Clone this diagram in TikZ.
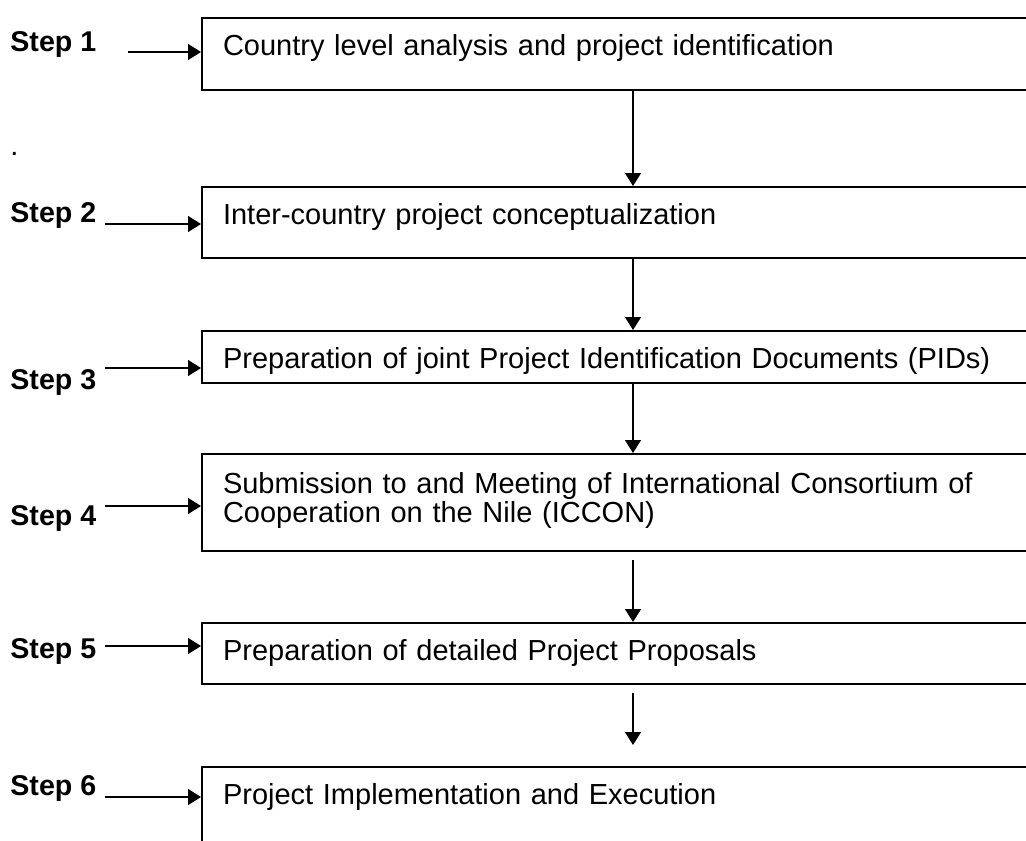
\documentclass[tikz,border=0pt]{standalone}
\usepackage{fontspec}
\setmainfont{Liberation Sans}
\usetikzlibrary{arrows.meta}

\begin{document}
\begin{tikzpicture}[x=0.5pt, y=-0.5pt, >={Triangle[length=6.5pt, width=8pt]},
    stepbox/.style={draw, line width=1pt, anchor=north west, inner xsep=10.5pt, inner ysep=0pt,
        text width=400pt, align=left, font=\fontsize{14.5}{12.85}\selectfont},
    steplab/.style={anchor=base west, inner sep=0pt, font=\fontsize{14.3}{12.85}\selectfont\bfseries},
    link/.style={->, line width=0.6pt}]
    \clip (0,0) rectangle (1026,840);

    \node[stepbox, text height=19pt, text depth=17pt] (b1) at (201,17) {Country level analysis and project identification};
    \node[stepbox, text height=18.5pt, text depth=17pt] (b2) at (201,186) {Inter-country project conceptualization};
    \node[stepbox, text height=18.5pt, text depth=7.5pt] (b3) at (201,330) {Preparation of joint Project Identification Documents (PIDs)};
    \node[stepbox, text height=19.5pt, text depth=29pt] (b4) at (201,453) {Submission to and Meeting of International Consortium of\\Cooperation on the Nile (ICCON)};
    \node[stepbox, text height=18.5pt, text depth=12pt] (b5) at (201,622) {Preparation of detailed Project Proposals};
    \node[stepbox, text height=18.5pt, text depth=40pt] (b6) at (201,766) {Project Implementation and Execution};

    \node[steplab] (l1) at (10,52) {Step 1};
    \node[steplab] (l2) at (10,222) {Step 2};
    \node[steplab] (l3) at (10,389) {Step 3};
    \node[steplab] (l4) at (10,525) {Step 4};
    \node[steplab] (l5) at (10,658) {Step 5};
    \node[steplab] (l6) at (10,795) {Step 6};
    \node[anchor=base west, inner sep=0pt, font=\fontsize{14.5}{12.85}\selectfont] (dot) at (10,155) {.};

    % arrows from the step labels
    \foreach \i/\x/\y in {1/128/52, 2/105/224, 3/105/368, 4/105/506, 5/105/646, 6/105/797} {
        \coordinate (t\i) at (\x,\y);
        \draw[link] (t\i) -- (t\i -| b\i.west);
    }

    % arrows between the boxes
    \coordinate (ax) at (633,0);
    \coordinate (s45) at (633,560);
    \coordinate (s56) at (633,693);
    \coordinate (e56) at (633,745);
    \draw[link] (b1.south -| ax) -- (b2.north -| ax);
    \draw[link] (b2.south -| ax) -- (b3.north -| ax);
    \draw[link] (b3.south -| ax) -- (b4.north -| ax);
    \draw[link] (s45) -- (s45 |- b5.north);
    \draw[link] (s56) -- (e56);
\end{tikzpicture}
\end{document}
